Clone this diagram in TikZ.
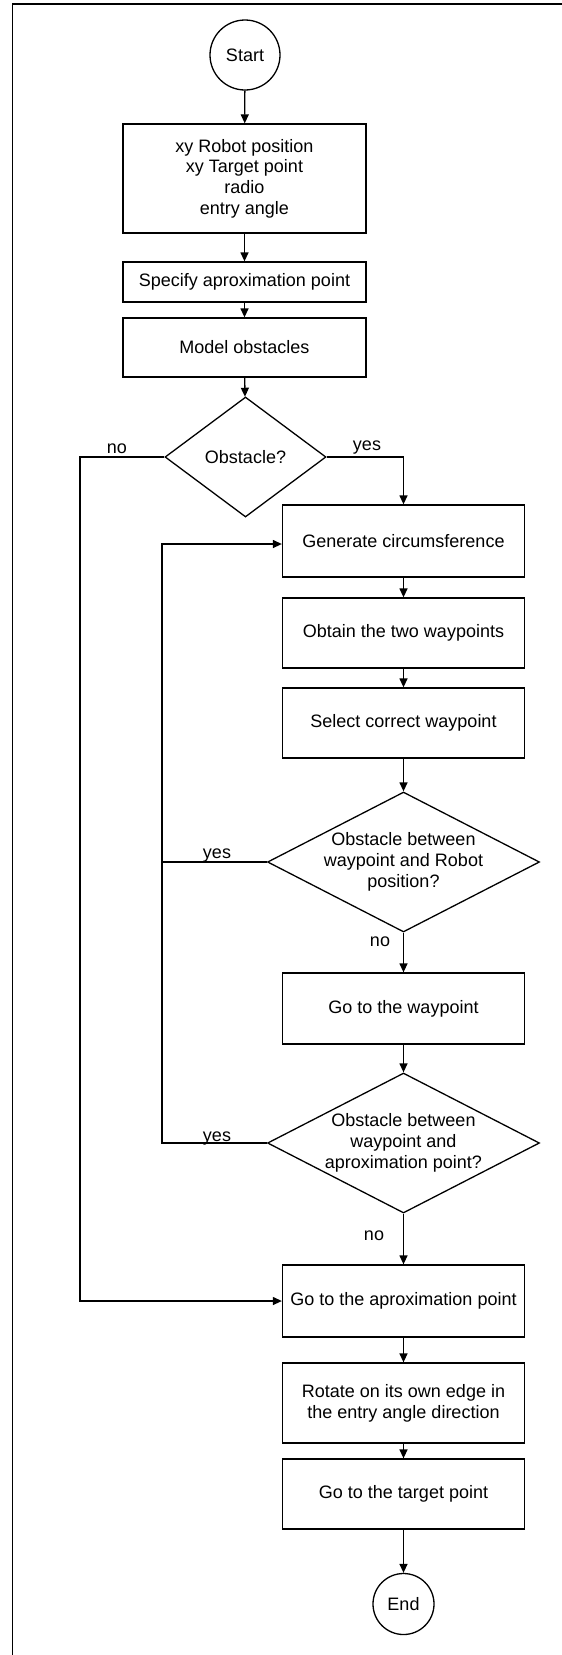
\documentclass[tikz,border=0pt]{standalone}
\usepackage{fontspec}
\setmainfont{Liberation Sans}
\usetikzlibrary{shapes.geometric,arrows.meta}
\begin{document}
\begin{tikzpicture}[x=1pt,y=-1pt,
  line width=1.3pt,
  every node/.style={font=\fontsize{18}{20.7}\selectfont},
  proc/.style={draw,rectangle,inner sep=0pt,minimum width=242,align=center},
  term/.style={draw,circle,inner sep=0pt},
  decision/.style={draw,diamond,inner sep=0pt,minimum width=272,minimum height=140},
  lbl/.style={anchor=base,inner sep=0pt},
  flow/.style={-{Triangle[length=9pt,width=8pt]}}
]
\useasboundingbox (0,0) rectangle (562,1655);

% frame
\draw (562,4) -- (12.5,4) -- (12.5,1655);

% first column
\node[term,minimum size=70] (start) at (245,55) {Start};
\node[proc,minimum width=243,minimum height=109] (b1) at (244.5,178.5)
  {xy Robot position\\xy Target point\\radio\\entry angle};
\node[proc,minimum width=243,minimum height=40] (b2) at (244.5,282) {Specify aproximation point};
\node[proc,minimum width=243,minimum height=59] (b3) at (244.5,347.5) {Model obstacles};
\node[decision,minimum width=161,minimum height=120] (d1) at (245.5,457) {};
\node (d1t) at (d1) {Obstacle?};

% second column
\node[proc,minimum height=72] (b4) at (403.5,541) {Generate circumsference};
\node[proc,minimum height=70] (b5) at (403.5,633) {Obtain the two waypoints};
\node[proc,minimum height=70] (b6) at (403.5,723) {Select correct waypoint};
\node[decision] (d2) at (403.5,862) {};
\node[align=center] (d2t) at (d2) {Obstacle between\\waypoint and Robot\\position?};
\node[proc,minimum height=71] (b7) at (403.5,1008.5) {Go to the waypoint};
\node[decision] (d3) at (403.5,1143) {};
\node[align=center] (d3t) at (d3) {Obstacle between\\waypoint and\\aproximation point?};
\node[proc,minimum height=72] (b8) at (403.5,1301) {Go to the aproximation point};
\node[proc,minimum height=80] (b9) at (403.5,1403) {Rotate on its own edge in\\the entry angle direction};
\node[proc,minimum height=70] (b10) at (403.5,1494) {Go to the target point};
\node[term,minimum size=61] (end) at (403.5,1604) {End};

% straight flow
\draw[flow] (start) -- (b1);
\draw[flow] (b1) -- (b2);
\draw[flow] (b2) -- (b3);
\draw[flow] (b3) -- (d1);
\draw[flow] (b4) -- (b5);
\draw[flow] (b5) -- (b6);
\draw[flow] (b6) -- (d2);
\draw[flow] (d2) -- (b7);
\draw[flow] (b7) -- (d3);
\draw[flow] (d3) -- (b8);
\draw[flow] (b8) -- (b9);
\draw[flow] (b9) -- (b10);
\draw[flow] (b10) -- (end);

% branches of the first decision
\coordinate (noL) at (80,457);
\coordinate (yesR) at (403.5,457);
\draw[flow] (d1.west) -- (noL) |- (b8.west);
\draw[flow] (d1.east) -- (yesR) -- (b4.north);

% loop back to the circumference step
\coordinate (lpT) at (162,544);
\coordinate (lpB) at (162,1143);
\draw (d2.west) -- (d2.west -| lpT);
\draw[flow] (d3.west) -- (lpB) -- (lpT) -- (lpT -| b4.west);

% branch labels
\node[lbl] (no1) at (117,453) {no};
\node[lbl] (yes1) at (367,450) {yes};
\node[lbl] (yes2) at (217,858) {yes};
\node[lbl] (no2) at (380,946) {no};
\node[lbl] (yes3) at (217,1141) {yes};
\node[lbl] (no3) at (374,1240) {no};
\end{tikzpicture}
\end{document}
